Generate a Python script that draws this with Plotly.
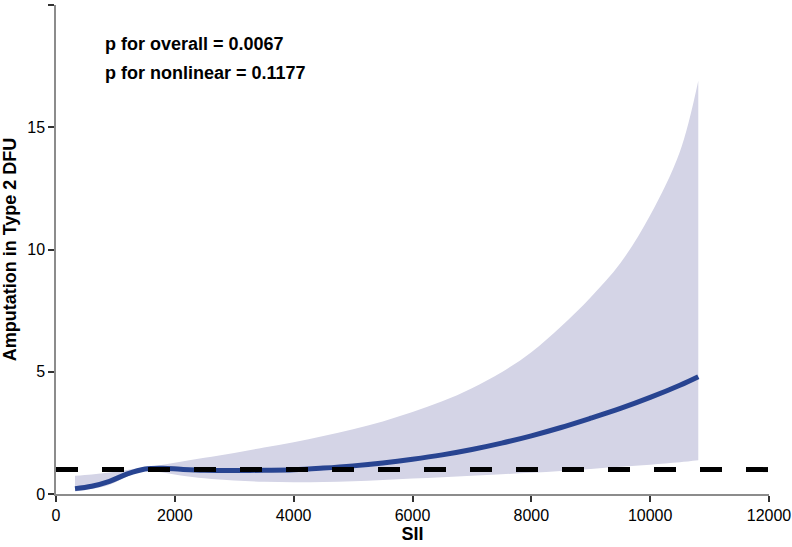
import plotly.graph_objects as go

# Data
sii = [320, 600, 900, 1200, 1500, 1800, 2100, 2500, 3000, 3500, 4000, 4500, 5000,
       5500, 6000, 6500, 7000, 7500, 8000, 8500, 9000, 9500, 10000, 10500, 10810]
estimate = [0.22, 0.32, 0.52, 0.82, 1.02, 1.05, 1.01, 0.97, 0.96, 0.97, 0.99, 1.06, 1.15,
            1.27, 1.42, 1.60, 1.82, 2.08, 2.38, 2.72, 3.10, 3.50, 3.95, 4.45, 4.80]
lower = [0.10, 0.20, 0.38, 0.72, 0.96, 0.88, 0.76, 0.64, 0.55, 0.50, 0.48, 0.49, 0.52,
         0.57, 0.63, 0.69, 0.75, 0.81, 0.87, 0.94, 1.02, 1.11, 1.20, 1.30, 1.38]
upper = [0.75, 0.80, 0.88, 0.98, 1.10, 1.20, 1.32, 1.48, 1.68, 1.90, 2.12, 2.37, 2.65,
         2.97, 3.35, 3.79, 4.33, 4.98, 5.80, 6.85, 8.05, 9.45, 11.4, 14.0, 16.9]
ref_x = [0, 12000]
ref_y = [1, 1]
x_ticks = [0, 2000, 4000, 6000, 8000, 10000, 12000]
y_ticks = [0, 5, 10, 15, 20]
notes = ["p for overall = 0.0067", "p for nonlinear = 0.1177"]

FONT = "Liberation Sans"

fig = go.Figure()
fig.add_trace(go.Scatter(x=sii, y=lower, mode="lines",
                         line=dict(width=0, shape="spline", smoothing=1.0),
                         hoverinfo="skip", showlegend=False))
fig.add_trace(go.Scatter(x=sii, y=upper, mode="lines",
                         line=dict(width=0, shape="spline", smoothing=1.0),
                         fill="tonexty", fillcolor="rgb(212,212,230)",
                         hoverinfo="skip", showlegend=False))
fig.add_trace(go.Scatter(x=sii, y=estimate, mode="lines",
                         line=dict(color="rgb(40,68,145)", width=5, shape="spline",
                                   smoothing=1.0),
                         showlegend=False))
fig.add_trace(go.Scatter(x=ref_x, y=ref_y, mode="lines",
                         line=dict(color="black", width=5, dash="22px,24px"),
                         showlegend=False))

for i, t in enumerate(notes):
    fig.add_annotation(text="<b>%s</b>" % t, xref="paper", yref="paper",
                       x=0.066, y=0.92 - i * 0.059, xanchor="left", yanchor="middle",
                       showarrow=False, font=dict(family=FONT, size=18, color="black"))

fig.update_layout(
    width=792, height=547,
    margin=dict(l=56, r=23, t=5, b=53),
    paper_bgcolor="white", plot_bgcolor="white",
    font=dict(family=FONT, color="black"),
    xaxis=dict(range=[0, 12000], tickvals=x_ticks, showgrid=False, zeroline=False,
               automargin=False,
               showline=True, linecolor="rgb(140,140,140)", linewidth=1.5,
               ticks="outside", ticklen=6, tickcolor="rgb(50,50,50)", tickwidth=1.5,
               tickfont=dict(family=FONT, size=16, color="black"),
               title=dict(text="<b>SII</b>", font=dict(family=FONT, size=18, color="black"),
                          standoff=0)),
    yaxis=dict(range=[0, 20], tickvals=y_ticks, showgrid=False, zeroline=False,
               automargin=False,
               showline=True, linecolor="rgb(140,140,140)", linewidth=1.5,
               ticks="outside", ticklen=6, tickcolor="rgb(50,50,50)", tickwidth=1.5,
               tickfont=dict(family=FONT, size=16, color="black"),
               title=dict(text="<b>Amputation in Type 2 DFU</b>",
                          font=dict(family=FONT, size=18, color="black"), standoff=6)),
)
fig.update_xaxes(tickformat="d")
fig.update_yaxes(tickformat="d")

fig.write_html(
    "out.html",
    config={"displayModeBar": False},
    post_script="document.body.style.margin='0';document.body.style.padding='0';"
                "document.body.style.overflow='hidden';",
)
